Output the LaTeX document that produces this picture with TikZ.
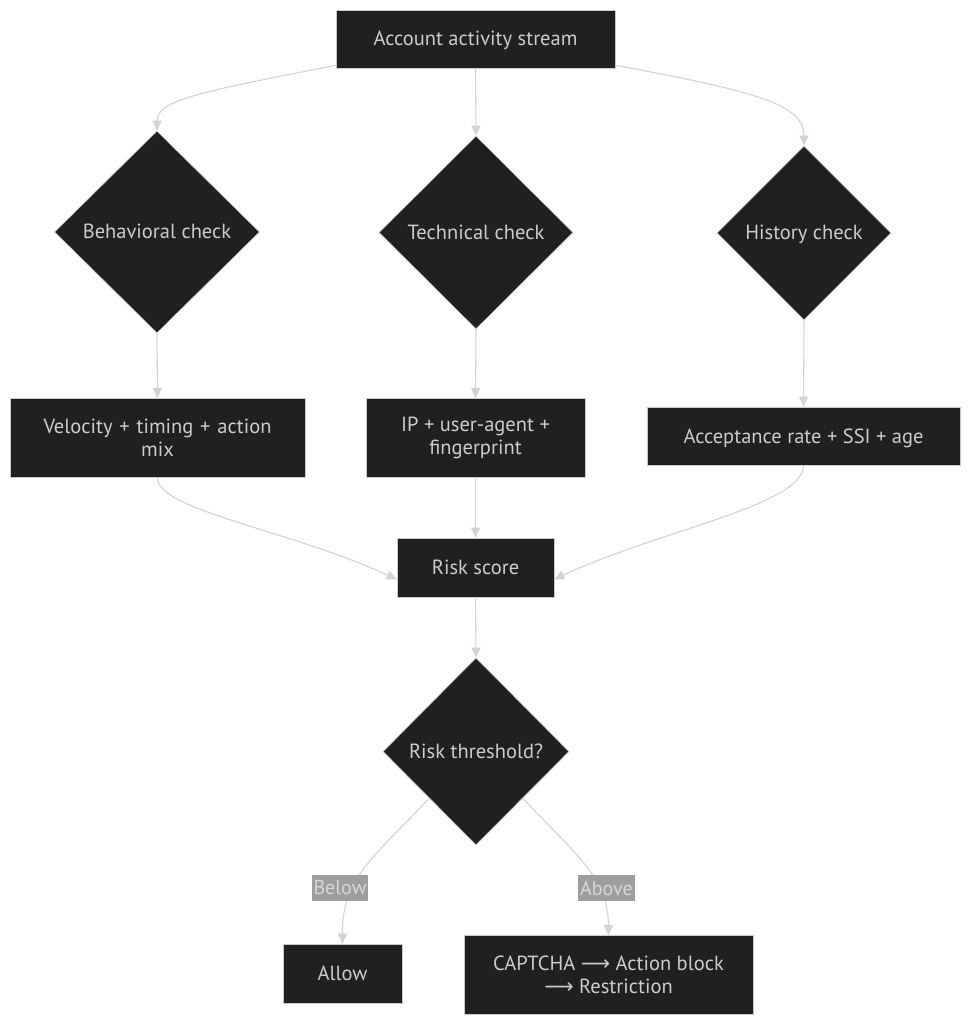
\documentclass[tikz,border=0pt]{standalone}
\usepackage{fontspec}
\setmainfont{PT Sans}
\newfontfamily\arrowfont{DejaVu Sans}
\usetikzlibrary{shapes.geometric,arrows.meta}
\definecolor{nodefill}{HTML}{1F2020}
\definecolor{nodetext}{HTML}{CCCCCC}
\definecolor{nodeline}{HTML}{C8C8C8}
\definecolor{edgecol}{HTML}{D3D3D3}
\definecolor{lblfill}{HTML}{9E9E9E}
\definecolor{lbltext}{HTML}{D8D8D8}
\newcommand{\rarr}{{\arrowfont ⟶}}
\tikzset{
  base/.style={fill=nodefill, draw=nodeline, line width=0.6pt, text=nodetext, font=\fontsize{20.5}{23}\selectfont, align=center, inner sep=0pt},
  oneline/.style={text height=14pt, text depth=0pt},
  box/.style={base, rectangle},
  dia/.style={base, diamond, aspect=1, oneline},
  edge/.style={draw=edgecol, line width=1.1pt, -{Triangle[length=10pt,width=9pt]}},
  lbl/.style={fill=lblfill, text=lbltext, font=\fontsize{20}{23}\selectfont, inner sep=2pt, minimum width=56pt, minimum height=26pt}
}
\begin{document}
\begin{tikzpicture}[x=1pt,y=-1pt]
\useasboundingbox (0,0) rectangle (971,1024);
\fill[white] (0,0) rectangle (971,1024);
% nodes
\node[box, oneline, minimum width=279pt, minimum height=58pt] (src) at (475.5,39) {Account activity stream};
\node[dia, minimum width=205pt, minimum height=202pt] (beh) at (157,232) {Behavioral check};
\node[dia, minimum width=194pt, minimum height=193pt] (tech) at (476,232.5) {Technical check};
\node[dia, minimum width=174pt, minimum height=174pt] (hist) at (804,233) {History check};
\node[box, minimum width=295pt, minimum height=79pt, text width=260pt] (vel) at (157.5,438) {Velocity + timing + action\\mix};
\node[box, minimum width=219pt, minimum height=79pt] (ip) at (475.5,438) {IP + user-agent +\\fingerprint};
\node[box, oneline, minimum width=313pt, minimum height=58pt] (acc) at (803.5,436) {Acceptance rate + SSI + age};
\node[box, oneline, minimum width=157pt, minimum height=59pt] (risk) at (475.5,567.5) {Risk score};
\node[dia, minimum width=186pt, minimum height=187pt] (thr) at (476,751.5) {Risk threshold?};
\node[box, oneline, minimum width=119pt, minimum height=59pt] (allow) at (342.5,973.5) {Allow};
\node[box, minimum width=289pt, minimum height=79pt] (block) at (608.5,975) {CAPTCHA \rarr{} Action block\\\rarr{} Restriction};
% edges
\draw[edge] ([yshift=3pt]src.south west) .. controls (200,92) and (157,100) .. (beh.north);
\draw[edge] (src.south) -- (tech.north);
\draw[edge] ([yshift=3pt]src.south east) .. controls (760,92) and (804,105) .. (hist.north);
\draw[edge] (beh.south) -- (vel.north);
\draw[edge] (tech.south) -- (ip.north);
\draw[edge] (hist.south) -- (acc.north);
\draw[edge] (vel.south) .. controls (157,510) and (290,530) .. ([yshift=18pt]risk.south west);
\draw[edge] (ip.south) -- (risk.north);
\draw[edge] (acc.south) .. controls (804,505) and (660,530) .. ([yshift=18pt]risk.south east);
\draw[edge] (risk.south) -- (thr.north);
\draw[edge] (thr.south west) .. controls (370,860) and (342,880) .. (allow.north);
\draw[edge] (thr.south east) .. controls (582,860) and (608,880) .. (block.north);
% edge labels
\node[lbl] (lbelow) at (340,888) {Below};
\node[lbl] (labove) at (606.5,888) {Above};
\end{tikzpicture}
\end{document}
